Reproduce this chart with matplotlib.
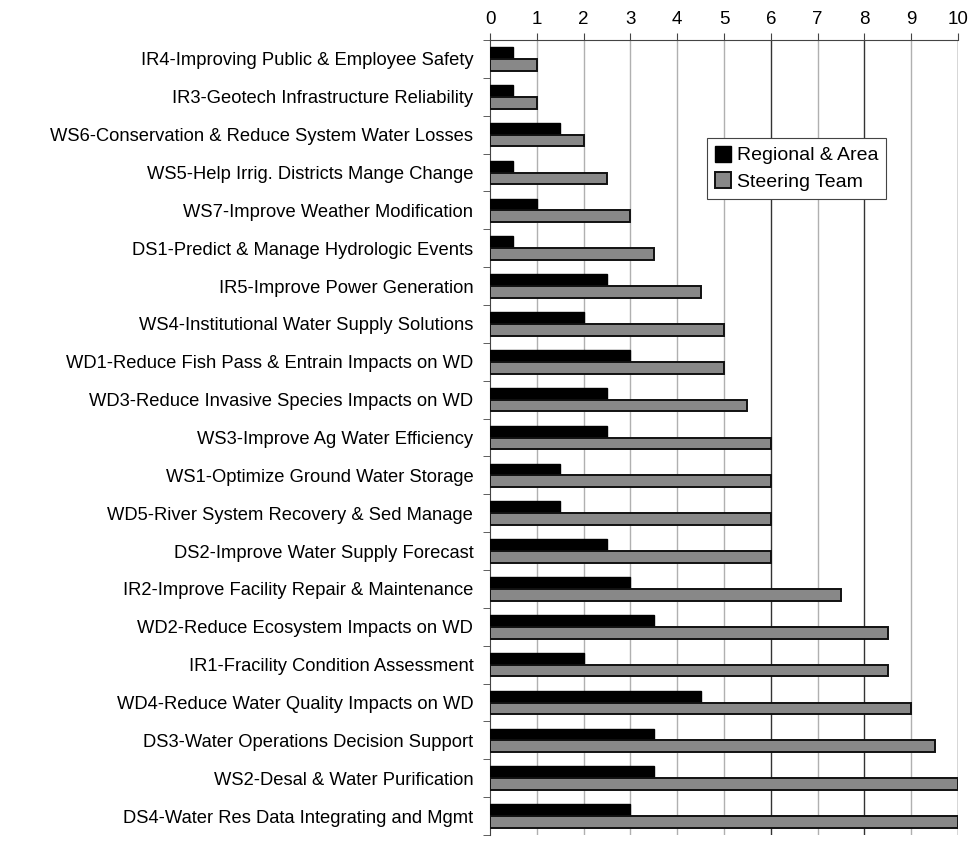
import matplotlib.pyplot as plt
import numpy as np

plt.rcParams['font.family'] = ['Liberation Sans', 'DejaVu Sans']

# Categories, top to bottom as shown
categories = [
    "IR4-Improving Public & Employee Safety",
    "IR3-Geotech Infrastructure Reliability",
    "WS6-Conservation & Reduce System Water Losses",
    "WS5-Help Irrig. Districts Mange Change",
    "WS7-Improve Weather Modification",
    "DS1-Predict & Manage Hydrologic Events",
    "IR5-Improve Power Generation",
    "WS4-Institutional Water Supply Solutions",
    "WD1-Reduce Fish Pass & Entrain Impacts on WD",
    "WD3-Reduce Invasive Species Impacts on WD",
    "WS3-Improve Ag Water Efficiency",
    "WS1-Optimize Ground Water Storage",
    "WD5-River System Recovery & Sed Manage",
    "DS2-Improve Water Supply Forecast",
    "IR2-Improve Facility Repair & Maintenance",
    "WD2-Reduce Ecosystem Impacts on WD",
    "IR1-Fracility Condition Assessment",
    "WD4-Reduce Water Quality Impacts on WD",
    "DS3-Water Operations Decision Support",
    "WS2-Desal & Water Purification",
    "DS4-Water Res Data Integrating and Mgmt",
]
regional = [0.5, 0.5, 1.5, 0.5, 1, 0.5, 2.5, 2, 3, 2.5, 2.5, 1.5, 1.5, 2.5,
            3, 3.5, 2, 4.5, 3.5, 3.5, 3]
steering = [1, 1, 2, 2.5, 3, 3.5, 4.5, 5, 5, 5.5, 6, 6, 6, 6,
            7.5, 8.5, 8.5, 9, 9.5, 10, 10]
x_ticks = list(range(0, 11))

fig = plt.figure(figsize=(9.71, 8.41), dpi=100)
ax = fig.add_axes([490 / 971, 6 / 841, 468 / 971, 795 / 841])

y = np.arange(len(categories))
h = 0.31
ax.barh(y - h / 2, regional, height=h, color='black', edgecolor='black',
        linewidth=1, label='Regional & Area', zorder=3)
ax.barh(y + h / 2, steering, height=h, color='#888888', edgecolor='#111111',
        linewidth=1.4, label='Steering Team', zorder=3)

ax.set_xlim(0, 10)
ax.set_ylim(len(categories) - 0.5, -0.5)
ax.xaxis.tick_top()
ax.set_xticks(x_ticks)
ax.tick_params(axis='x', length=5, labelsize=13.5, pad=4, color='#444444')

# gridlines: most light grey, a few darker as in the scanned original
for xv in x_ticks[1:]:
    col = '#333333' if xv in (6, 8, 10) else '#b0b0b0'
    ax.axvline(xv, color=col, linewidth=1, zorder=0)

ax.set_yticks(y)
ax.set_yticklabels(categories, fontsize=13.2)
ax.tick_params(axis='y', length=0, pad=12)
ax.set_yticks(np.arange(-0.5, len(categories), 1), minor=True)
ax.tick_params(axis='y', which='minor', length=5, color='#444444')

for side in ['right', 'bottom']:
    ax.spines[side].set_visible(False)
ax.spines['top'].set_color('#444444')
ax.spines['left'].set_color('#444444')

leg = ax.legend(loc='upper left', bbox_to_anchor=(0.4637, 0.877),
                borderaxespad=0, fontsize=14, frameon=True, fancybox=False,
                framealpha=1, handlelength=0.85, handleheight=0.9,
                handletextpad=0.3, borderpad=0.4, labelspacing=0.4)
leg.get_frame().set_edgecolor('#444444')
leg.get_frame().set_linewidth(0.8)

plt.savefig('out.png', dpi=100, facecolor='white')
